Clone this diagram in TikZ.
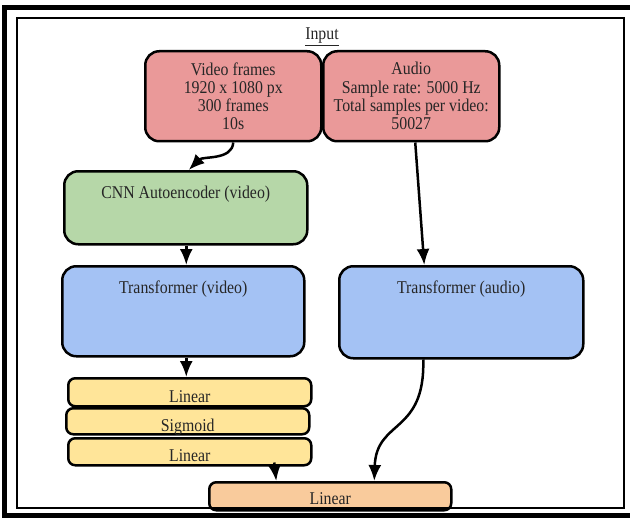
\documentclass[tikz,border=0pt]{standalone}
\usepackage{fontspec}
\setmainfont{Liberation Serif}[FakeStretch=0.88]
\usepackage{tikz}
\usetikzlibrary{arrows.meta}
\usetikzlibrary{positioning}
\definecolor{inred}{HTML}{EA9999}
\definecolor{cnngreen}{HTML}{B6D7A8}
\definecolor{tfblue}{HTML}{A4C2F4}
\definecolor{linyellow}{HTML}{FFE599}
\definecolor{outorange}{HTML}{F9CB9C}

\begin{document}
\begin{tikzpicture}[x=1pt,y=-1pt,
		font=\fontsize{18}{18.3}\selectfont,
		box/.style={draw=black,line width=2.5pt,rounded corners=14pt,anchor=north west,inner sep=0pt,text=black!85},
		layer/.style={box,rounded corners=7pt,text height=20pt,text depth=0pt},
		head/.style={anchor=north,inner sep=0pt,yshift=-15.5pt,text=black!85},
		arr/.style={line width=2.5pt,-{Latex[length=16pt,width=13pt]}}]
	\useasboundingbox (0,0) rectangle (630,519);
	%% define frame
	\draw[line width=5pt] (640,7.5) -- (4.5,7.5) -- (4.5,515.5) -- (640,515.5);
	%% define boxes
	\node (title) at (322,37) [text=black!85] {\underline{Input}};
	\node (vid) at (144,50) [box,fill=inred,minimum width=176pt,minimum height=90pt,align=center]
		{Video frames\\1920 x 1080 px\\300 frames\\10s};
	\node (aud) at (322,50) [box,fill=inred,minimum width=176pt,minimum height=90pt,align=center]
		{Audio\\Sample rate: 5000 Hz\\Total samples per video:\\50027};
	\node (cnn) at (63,170) [box,fill=cnngreen,minimum width=243pt,minimum height=73pt,
		label={[head]north:CNN Autoencoder (video)}] {};
	\node (tfv) at (61,265) [box,fill=tfblue,minimum width=242pt,minimum height=90pt,
		label={[head]north:Transformer (video)}] {};
	\node (tfa) at (338,265) [box,fill=tfblue,minimum width=244pt,minimum height=92pt,
		label={[head]north:Transformer (audio)}] {};
	\node (lin1) at (67,377) [layer,fill=linyellow,minimum width=243pt,minimum height=28pt] {Linear};
	\node (sig) at (65,407) [layer,fill=linyellow,minimum width=243pt,minimum height=26pt,text height=21pt] {Sigmoid};
	\node (lin2) at (67,437) [layer,fill=linyellow,minimum width=243pt,minimum height=27pt] {Linear};
	\node (out) at (208,481) [layer,fill=outorange,minimum width=242pt,minimum height=28pt,text height=17pt] {Linear};
	\draw[line width=2pt] (17,18.5) rectangle (624,507.5);
	%% define arrows
	\draw[arr] (vid.south) .. controls +(-1,18) and +(14,-14) .. ([xshift=3pt]cnn.north);
	\draw[arr] ([xshift=4pt]aud.south) -- ([xshift=-37pt]tfa.north);
	\draw[arr] ([xshift=0.5pt]cnn.south) -- ([xshift=0.5pt]cnn.south |- tfv.north);
	\draw[arr] ([xshift=3pt]tfv.south) -- ([xshift=3pt]tfv.south |- lin1.north);
	\draw[arr] ([xshift=-38pt]tfa.south) .. controls +(2,75) and +(2,-62) .. ([xshift=44pt]out.north);
	\draw[arr] ([xshift=84.5pt,yshift=4pt]lin2.south) -- ([xshift=-54pt]out.north);
\end{tikzpicture}
\end{document}
